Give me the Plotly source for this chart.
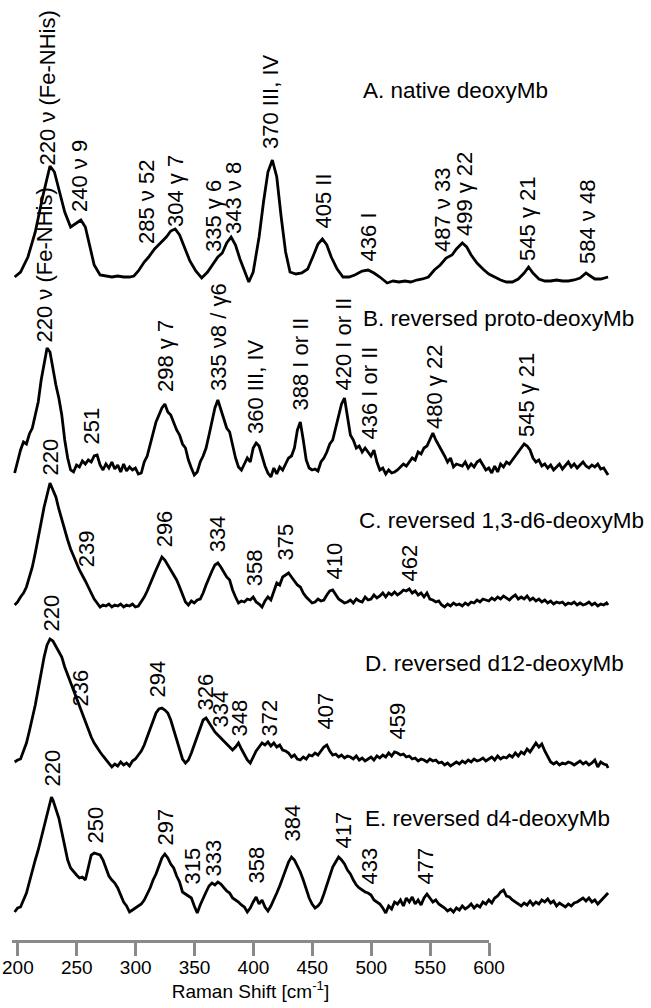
import plotly.graph_objects as go

# ---------------- data (Raman shift in cm-1, intensity in arbitrary units) -------------
a_x = [196,200,205,210,215,218,220,223,226,230,234,238,241,244,247,250,254,258,262,266,270,274,277,280,284,287,
       291,295,299,302,305,308,311,315,319,323,327,331,334,337,340,343,346,349,352,355,358,362,365,368,371,374,377,
       380,383,387,391,395,399,402,405,408,411,415,419,423,427,432,436,440,444,449,453,457,461,465,469,473,477,481,
       485,489,493,496,500,503,506,510,514,518,522,526,530,534,538,542,545,548,552,556,560,564,568,572,576,580,584,
       587,590,594,597,599]
a_y = [0,5,20,45,80,100,111,105,88,65,50,54,57,50,30,12,2,1,0,1,0,0,1,6,15,20,
       28,34,40,46,48,42,30,16,6,-1,5,14,20,24,34,40,32,18,6,-5,5,40,75,105,117,100,60,
       25,5,3,4,8,22,33,38,32,20,8,0,0,2,6,7,4,0,-6,-4,-5,-4,-5,-3,-2,0,7,
       12,19,22,28,34,30,22,14,8,3,0,-3,-5,-5,-2,4,10,4,-2,-4,-4,-3,-4,-4,-3,-1,4,
       1,-2,-2,-1,0]

b_x = list(range(196, 600, 2)) + [599]
b_y = [-3,8,20,28,26,36,42,55,68,90,108,122,118,100,85,72,55,30,12,0,-2,5,3,9,6,10,8,14,15,5,
       0,6,2,8,1,5,-2,6,-1,3,0,2,-4,-3,8,14,25,36,48,55,62,66,58,55,48,40,35,26,22,10,
       2,-5,-2,8,14,22,35,50,62,70,60,52,42,38,25,12,3,0,6,12,8,22,27,24,14,4,-3,-7,
       2,-4,3,0,6,12,14,22,40,48,30,10,2,0,1,-1,8,12,18,26,30,42,55,66,72,55,35,30,
       22,24,18,22,18,14,20,8,0,2,-4,0,-3,-2,0,3,6,4,8,12,10,18,16,22,24,30,37,30,
       25,20,14,8,12,3,6,5,4,8,2,6,3,8,10,5,0,2,-3,4,-2,6,3,8,6,10,14,18,22,26,
       24,20,12,8,10,4,6,2,5,0,3,6,1,4,8,3,6,2,5,8,4,2,5,3,6,1,2,-3,-5]

c_x = list(range(196, 600, 2)) + [599]
c_y = [0,3,8,12,18,28,38,52,68,82,98,110,122,115,108,96,85,75,65,56,48,42,35,30,24,18,12,6,2,-2,
       0,-1,1,-2,0,-1,1,-2,0,-1,1,-2,-1,3,8,14,22,28,35,42,48,45,40,36,30,25,18,10,3,0,
       4,2,5,6,12,20,28,34,40,42,38,33,28,25,15,8,2,4,3,6,5,8,3,1,-2,4,8,5,14,22,
       20,28,30,32,28,24,20,18,12,8,5,2,3,6,4,5,10,14,15,10,6,4,2,3,5,2,6,4,3,8,
       5,6,10,7,9,12,8,12,10,13,10,12,15,14,16,12,14,10,12,8,12,6,5,3,4,0,-2,1,-1,2,
       0,1,-1,2,0,3,2,5,3,6,5,4,7,5,8,6,9,7,5,8,10,6,8,6,9,5,7,4,6,3,
       5,2,4,1,3,2,3,0,2,1,3,0,2,0,1,3,0,2,-1,1,0,2,0]

d_x = list(range(196, 600, 2)) + [599]
d_y = [3,5,6,14,22,34,46,60,76,94,108,120,126,124,119,114,108,98,90,83,75,66,58,50,42,35,28,22,17,13,
       9,5,2,-2,1,-1,3,0,2,-1,4,6,10,14,20,28,36,44,52,56,57,55,52,45,35,25,15,6,2,5,
       12,20,30,38,45,47,42,37,33,30,27,24,22,18,15,18,22,16,10,5,2,8,14,18,22,20,23,19,22,18,
       20,15,14,12,8,10,6,5,8,6,10,9,12,10,14,18,20,14,10,11,8,10,7,9,8,6,9,5,7,4,
       6,8,5,9,7,10,8,12,9,13,12,10,11,8,9,6,7,4,6,5,3,6,4,5,2,3,0,2,-1,1,
       3,1,4,2,5,3,6,4,5,7,4,6,8,5,9,6,8,7,10,8,12,9,13,11,16,13,17,22,18,21,
       14,8,3,1,3,0,2,1,3,2,0,2,4,1,3,0,2,5,-2,3,1,0,-3]

e_x = [196,198,200,202,204,206,208,210,212,214,216,218,220,221] + list(range(222, 600, 2)) + [599]
e_y = [-2,2,3,10,17,28,40,50,60,72,85,98,110,113,110,102,92,78,63,50,42,38,35,32,33,30,42,55,57,56,
       55,50,42,34,30,27,22,14,8,4,-2,0,2,4,6,10,16,22,30,36,44,52,56,52,46,42,34,28,18,16,
       14,12,4,-3,5,12,18,24,27,25,28,26,22,19,17,12,10,8,5,3,-2,2,8,13,6,10,3,-1,4,10,
       17,24,32,40,48,53,50,44,38,30,20,12,6,2,4,8,16,25,34,43,48,53,50,46,40,36,30,25,22,20,
       18,17,15,10,8,6,2,-3,4,1,8,6,10,4,12,8,13,6,10,5,12,16,12,8,10,6,4,2,-1,1,
       -2,2,0,4,1,3,6,2,5,3,8,6,10,7,12,14,18,20,14,13,10,8,6,4,7,5,9,5,8,6,
       10,8,11,7,9,4,7,5,3,6,4,7,8,10,12,9,12,8,10,6,9,12,15,17]

# baseline of each trace (height above the axis line)
offsets = [663, 470, 335, 175, 30]

# peak labels: text, x position, height above each trace baseline
a_lbl = ["220 ν (Fe-NHis)", "240 ν 9", "285 ν 52", "304 γ 7", "335 γ 6", "343 ν 8", "370 III, IV",
         "405 II", "436 I", "487 ν 33", "499 γ 22", "545 γ 21", "584 ν 48"]
a_lx = [218.6, 239.7, 285.2, 304.9, 330.7, 344.3, 369.4, 405.4, 436.6, 486.2, 501.2, 543.9, 584.7]
a_lh = [111, 64, 32, 49, 24, 42, 127, 47, 15, 24, 40, 15, 12]

b_lbl = ["220 ν (Fe-NHis)", "251", "298 γ 7", "335 ν8 / γ6", "360 III, IV", "388 I or II",
         "420 I or II", "436 I or II", "480 γ 22", "545 γ 21"]
b_lx = [216.6, 248.5, 298.1, 334.1, 359.2, 389.8, 419.0, 437.3, 480.8, 543.3]
b_lh = [127, 25, 77, 78, 35, 58, 78, 30, 40, 32]

c_lbl = ["220", "239", "296", "334", "358", "375", "410", "462"]
c_lx = [220.0, 245.0, 298.0, 334.0, 359.0, 379.6, 413.5, 463.8]
c_lh = [128, 37, 57, 52, 18, 43, 25, 22]

d_lbl = ["220", "236", "294", "326", "334", "348", "372", "407", "459"]
d_lx = [220.7, 240.4, 293.3, 325.3, 336.1, 349.0, 369.4, 407.4, 456.3]
d_lh = [132, 57, 67, 53, 37, 28, 28, 35, 25]

e_lbl = ["220", "250", "297", "315", "333", "358", "384", "417", "433", "477"]
e_lx = [221.4, 250.6, 298.1, 317.1, 330.7, 359.9, 385.0, 419.0, 437.3, 475.3]
e_lh = [122, 65, 63, 25, 32, 25, 68, 60, 25, 25]

titles = ["A. native deoxyMb", "B. reversed proto-deoxyMb", "C. reversed 1,3-d6-deoxyMb",
          "D. reversed d12-deoxyMb", "E. reversed d4-deoxyMb"]
title_x = [431.2, 431.2, 428.5, 432.6, 432.6]
title_h = [187, 152, 85, 102, 92]

tick_vals = [200, 250, 300, 350, 400, 450, 500, 550, 600]
tick_text = [str(v) for v in tick_vals]

# ---------------- figure ----------------
FONT = "Liberation Sans, Arial, sans-serif"
fig = go.Figure()

series = [(a_x, a_y), (b_x, b_y), (c_x, c_y), (d_x, d_y), (e_x, e_y)]
labels = [(a_lbl, a_lx, a_lh), (b_lbl, b_lx, b_lh), (c_lbl, c_lx, c_lh),
          (d_lbl, d_lx, d_lh), (e_lbl, e_lx, e_lh)]

for (xs, ys), off in zip(series, offsets):
    fig.add_trace(go.Scatter(x=xs, y=[v + off for v in ys], mode="lines",
                             line=dict(color="black", width=2.8),
                             xaxis="x", yaxis="y", hoverinfo="skip", cliponaxis=False))

# empty trace on the separate axis subplot so the visible axis is drawn
fig.add_trace(go.Scatter(x=[None], y=[None], xaxis="x2", yaxis="y2", hoverinfo="skip"))

annotations = []
for (txts, lx, lh), off in zip(labels, offsets):
    for t, x, h in zip(txts, lx, lh):
        annotations.append(dict(text=t, x=x, y=h + off, xref="x", yref="y",
                                textangle=-90, xanchor="center", yanchor="bottom",
                                showarrow=False, borderpad=0,
                                font=dict(family=FONT, size=22, color="black")))

for t, x, h, off in zip(titles, title_x, title_h, offsets):
    annotations.append(dict(text=t, x=x, y=h + off, xref="x", yref="y",
                            xanchor="left", yanchor="middle", showarrow=False,
                            font=dict(family=FONT, size=22.5, color="black")))

W, H = 651, 1008
px_per_unit = 1.4725
x0 = 220 - 50 / px_per_unit
x1 = 220 + (W - 50) / px_per_unit
plot_h = 940

fig.update_layout(
    width=W, height=H,
    margin=dict(l=0, r=0, t=0, b=H - plot_h, autoexpand=False),
    paper_bgcolor="white", plot_bgcolor="white",
    showlegend=False,
    annotations=annotations,
    xaxis=dict(domain=[0, 1], range=[x0, x1], visible=False, anchor="y"),
    yaxis=dict(domain=[0, 1], range=[0, plot_h], visible=False, anchor="x"),
    yaxis2=dict(domain=[0, 0.02], range=[0, 1], visible=False, anchor="x2"),
    xaxis2=dict(domain=[12 / W, 489 / W], range=[195, 600], anchor="y2",
                tickvals=tick_vals, ticktext=tick_text,
                ticks="outside", ticklen=13, tickwidth=3, tickcolor="#8a8a8a",
                showline=True, linecolor="#8a8a8a", linewidth=3,
                showgrid=False, zeroline=False, automargin=False,
                ticklabelstandoff=-5, ticklabeloverflow="allow",
                tickfont=dict(family=FONT, size=19, color="black"),
                title=dict(text="Raman Shift [cm<sup>-1</sup>]", standoff=4,
                           font=dict(family=FONT, size=19, color="black"))),
)

# remove the default page margin so the figure fills the window exactly
fig.write_html("out.html", config={"displayModeBar": False, "staticPlot": True},
               post_script="document.body.style.margin='0';")
